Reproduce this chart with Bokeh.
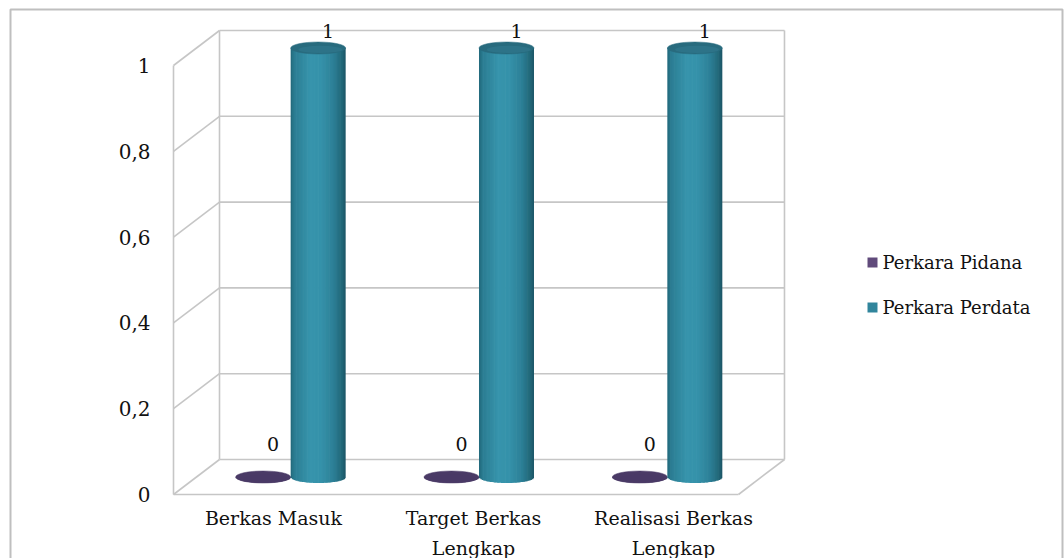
import numpy as np
from bokeh.plotting import figure
from bokeh.models import Range1d, ColumnDataSource
from bokeh.embed import file_html
from bokeh.resources import INLINE
from bokeh.core.properties import value

# ---- data -------------------------------------------------------------
categories = ["Berkas Masuk", "Target Berkas\nLengkap", "Realisasi Berkas\nLengkap"]
series_names = ["Perkara Pidana", "Perkara Perdata"]
pidana = [0, 0, 0]
perdata = [1, 1, 1]
y_ticks = [0, 0.2, 0.4, 0.6, 0.8, 1.0]
y_tick_labels = ["0", "0,2", "0,4", "0,6", "0,8", "1"]

# ---- layout (front plane: 173px,494px origin, px per category / per unit) --
W, H = 1064, 558
OX, OY = 173.0, 494.0
SX, SY = 188.33, 429.0
DX, DY = 46 / SX, 35 / SY          # depth offset of the back wall
BAR_W = 55 / SX                    # cylinder diameter
CAP_H = 12 / SY                    # ellipse height of cylinder ends
FONT = value("DejaVu Serif")
GRID = "#c6c6c6"


def px(x):
    return (x - OX) / SX


def py(y):
    return (OY - y) / SY


p = figure(width=W, height=H, output_backend="svg", toolbar_location=None,
           x_range=Range1d(px(0), px(W)), y_range=Range1d(py(H), py(0)),
           min_border=0)
p.axis.visible = False
p.grid.visible = False
p.outline_line_color = None
p.background_fill_color = "white"
p.border_fill_color = "white"

# chart area border (open at the bottom edge of the page)
p.line(x=[px(10), px(10), px(1062), px(1062)], y=[py(H + 5), py(9), py(9), py(H + 5)],
       line_color="#bfbfbf", line_width=2)

n = len(categories)

# ---- 3D box: walls, floor and gridlines ------------------------------
xs, ys = [], []
for t in y_ticks:
    xs.append([0, DX]); ys.append([t, t + DY])                 # side wall
    xs.append([DX, n + DX]); ys.append([t + DY, t + DY])       # back wall
xs.append([DX, DX]); ys.append([DY, y_ticks[-1] + DY])
xs.append([n + DX, n + DX]); ys.append([DY, y_ticks[-1] + DY])
xs.append([0, 0]); ys.append([0, y_ticks[-1]])                 # value axis
xs.append([0, n]); ys.append([0, 0])                           # floor front
xs.append([n, n + DX]); ys.append([0, DY])                     # floor right
p.multi_line(xs, ys, line_color=GRID, line_width=1.6)


def shade(stops, colors, t):
    rgb = np.array([[int(c[i:i + 2], 16) for i in (1, 3, 5)] for c in colors], float)
    out = []
    for tv in t:
        r = [np.interp(tv, stops, rgb[:, k]) for k in range(3)]
        out.append("#%02x%02x%02x" % tuple(int(round(v)) for v in r))
    return out


def cylinders(centers, vals, stops, colors, cap_colors, n_strips=40):
    base = DY / 2
    left, right, bottom, top, fill = [], [], [], [], []
    edges = np.linspace(-1, 1, n_strips + 1)
    mids = (edges[:-1] + edges[1:]) / 2
    strip_cols = shade(stops, colors, (mids + 1) / 2)
    overlap = 0.7 / SX
    for cx, v in zip(centers, vals):
        for j in range(n_strips):
            left.append(cx + edges[j] * BAR_W / 2)
            right.append(cx + edges[j + 1] * BAR_W / 2 + (overlap if j < n_strips - 1 else 0))
            bottom.append(base - CAP_H / 2 * np.sqrt(max(0.0, 1 - mids[j] ** 2)))
            top.append(base + v)
            fill.append(strip_cols[j])
    src = ColumnDataSource(dict(left=left, right=right, bottom=bottom, top=top, fill=fill))
    p.quad(left="left", right="right", bottom="bottom", top="top", source=src,
           fill_color="fill", line_color=None)
    tops = [base + v for v in vals]
    p.ellipse(x=centers, y=tops, width=BAR_W, height=CAP_H,
              fill_color=cap_colors[0], line_color=cap_colors[0], line_width=0.5)
    # softer highlight on the front half of the lid
    p.ellipse(x=list(np.asarray(centers) + BAR_W * 0.04), y=[t - CAP_H * 0.12 for t in tops],
              width=BAR_W * 0.8, height=CAP_H * 0.6,
              fill_color=cap_colors[1], line_color=None, fill_alpha=0.45)


idx = np.arange(n)
mid = idx + 0.5 + DX / 2
pid_x = mid - BAR_W / 2
per_x = mid + BAR_W / 2

cylinders(pid_x, pidana, [0, 0.4, 1], ["#463762", "#4d3c6a", "#433560"],
          ["#4a3a66", "#4a3a66"])
cylinders(per_x, perdata,
          [0, 0.07, 0.35, 0.55, 0.78, 0.93, 1],
          ["#21677a", "#2b7d93", "#3794ac", "#3592aa", "#2c7f96", "#226879", "#1c5565"],
          ["#286b7e", "#327f94"])

# ---- value labels -----------------------------------------------------
lab_x = list(pid_x + 10 / SX) + list(per_x + 10 / SX)
vals = pidana + perdata
lab_y = [max(v, 0.035) + DY for v in vals]   # keep zero labels clear of the discs
p.text(x=lab_x, y=lab_y, text=[str(v) for v in vals], text_font=FONT,
       text_font_size="19px", text_align="center", text_baseline="middle",
       text_color="#111111")

# ---- value axis labels ------------------------------------------------
p.text(x=[-23 / SX] * len(y_ticks), y=y_ticks, text=y_tick_labels, text_font=FONT,
       text_font_size="20px", text_align="right", text_baseline="middle",
       text_color="#111111")

# ---- category labels --------------------------------------------------
p.text(x=list((idx + 0.5) * 1.062), y=[-12 / SY] * n, text=categories,
       text_font=FONT, text_font_size="19px", text_align="center",
       text_baseline="top", text_line_height=1.38, text_color="#111111")

# ---- legend -----------------------------------------------------------
leg_x = px(872)
leg_y = [py(262), py(307)]
p.scatter(x=[leg_x] * 2, y=leg_y, marker="square", size=10,
          fill_color=["#604a7b", "#31859c"], line_color=None)
p.text(x=[leg_x + 10 / SX] * 2, y=leg_y, text=series_names, text_font=FONT,
       text_font_size="18px", text_align="left", text_baseline="middle",
       text_color="#111111")

open("out.html", "w").write(file_html(p, INLINE))
